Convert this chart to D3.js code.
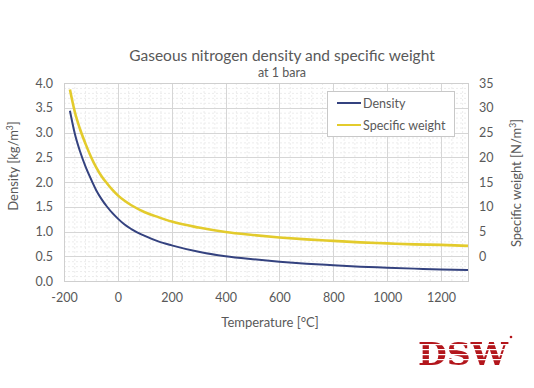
<!DOCTYPE html>
<html><head><meta charset="utf-8">
<script src="https://cdn.jsdelivr.net/npm/d3@7/dist/d3.min.js"></script>
<style>body{margin:0;background:#fff}svg{display:block}</style>
</head><body>
<svg id="c" width="534" height="388"></svg>
<script>
const temperature = [-178,-160,-140,-120,-100,-80,-60,-40,-20,0,25,50,100,150,200,300,400,500,600,700,800,900,1000,1100,1200,1300];
const density     = [3.44,2.98,2.61,2.31,2.06,1.83,1.65,1.50,1.37,1.26,1.14,1.05,0.91,0.80,0.72,0.59,0.50,0.44,0.39,0.35,0.32,0.29,0.27,0.25,0.23,0.22];
const specWeight  = [33.7,29.2,25.6,22.7,20.1,17.9,16.1,14.7,13.4,12.3,11.2,10.3,8.9,7.9,7.0,5.8,4.9,4.3,3.8,3.4,3.1,2.8,2.6,2.4,2.3,2.1];
const xTicks = [-200,0,200,400,600,800,1000,1200];
const yLeftTicks = [0,0.5,1,1.5,2,2.5,3,3.5,4];
const yRightTicks = [0,5,10,15,20,25,30,35];
const seriesNames = ["Density","Specific weight"];
const colors = ["#34427f","#e3cb2c"];

const svg = d3.select("#c");
const font = "Lato, 'Open Sans', sans-serif";
const L=64,R=468,T=83,B=281;
const x = d3.scaleLinear().domain([-200,1300]).range([L,R]);
const yL = d3.scaleLinear().domain([0,4]).range([B,T]);
const yR = d3.scaleLinear().domain([-5,35]).range([B,T]);

// minor grid
const g = svg.append("g");
g.selectAll(".mx").data(d3.range(-200,1301,40).filter(v=>v%200!==0)).join("line")
  .attr("x1",d=>x(d)).attr("x2",d=>x(d)).attr("y1",T).attr("y2",B)
  .attr("stroke","#ececec").attr("stroke-width",1).attr("stroke-dasharray","2,2");
g.selectAll(".my").data(d3.range(0,41).map(i=>i/10).filter((v,i)=>i%5!==0)).join("line")
  .attr("x1",L).attr("x2",R).attr("y1",d=>yL(d)+0.5).attr("y2",d=>yL(d)+0.5)
  .attr("stroke","#ececec").attr("stroke-width",1).attr("stroke-dasharray","2,2");
// major grid
g.selectAll(".Mx").data(xTicks.filter(v=>v>-200)).join("line")
  .attr("x1",d=>Math.round(x(d))+0.5).attr("x2",d=>Math.round(x(d))+0.5).attr("y1",T).attr("y2",B)
  .attr("stroke","#d6d6d6");
g.selectAll(".My").data(yLeftTicks).join("line")
  .attr("x1",L).attr("x2",R).attr("y1",d=>Math.round(yL(d))+0.5).attr("y2",d=>Math.round(yL(d))+0.5)
  .attr("stroke","#d6d6d6");
svg.append("rect").attr("x",L+0.5).attr("y",T+0.5).attr("width",R-L).attr("height",B-T)
  .attr("fill","none").attr("stroke","#cfcfcf");

// axes labels via d3 axes
const axB = svg.append("g").attr("transform",`translate(0,${B})`)
  .call(d3.axisBottom(x).tickValues(xTicks).tickSize(0).tickPadding(12).tickFormat(d=>String(d)));
const axL = svg.append("g").attr("transform",`translate(${L},0)`)
  .call(d3.axisLeft(yL).tickValues(yLeftTicks).tickSize(0).tickPadding(11).tickFormat(d=>d.toFixed(1)));
const axR = svg.append("g").attr("transform",`translate(${R},0)`)
  .call(d3.axisRight(yR).tickValues(yRightTicks).tickSize(0).tickPadding(11).tickFormat(d=>String(d)));
[axB,axL,axR].forEach(a=>{a.select(".domain").remove();
  a.selectAll("text").attr("font-family",font).attr("font-size",12.5).attr("fill","#595959");});

// lines
const line = ys => d3.line().x((d,i)=>x(temperature[i])).y(d=>ys(d)).curve(d3.curveMonotoneX);
svg.append("path").datum(specWeight).attr("d",line(yR)).attr("fill","none")
  .attr("stroke",colors[1]).attr("stroke-width",2.6);
svg.append("path").datum(density).attr("d",line(yL)).attr("fill","none")
  .attr("stroke",colors[0]).attr("stroke-width",2);

// titles
svg.append("text").attr("x",282).attr("y",61).attr("text-anchor","middle")
  .attr("font-family",font).attr("font-size",15.5).attr("fill","#595959")
  .text("Gaseous nitrogen density and specific weight");
svg.append("text").attr("x",282).attr("y",77).attr("text-anchor","middle")
  .attr("font-family",font).attr("font-size",12.5).attr("fill","#595959").text("at 1 bara");
svg.append("text").attr("x",270).attr("y",327).attr("text-anchor","middle")
  .attr("font-family",font).attr("font-size",13).attr("fill","#595959").text("Temperature [°C]");
const lt = svg.append("text").attr("transform","translate(18,166) rotate(-90)").attr("text-anchor","middle")
  .attr("font-family",font).attr("font-size",13).attr("fill","#595959");
lt.append("tspan").text("Density [kg/m");
lt.append("tspan").attr("font-size",8.5).attr("dy",-5).text("3");
lt.append("tspan").attr("dy",5).text("]");
const rt = svg.append("text").attr("transform","translate(521,183) rotate(-90)").attr("text-anchor","middle")
  .attr("font-family",font).attr("font-size",13).attr("fill","#595959");
rt.append("tspan").text("Specific weight [N/m");
rt.append("tspan").attr("font-size",8.5).attr("dy",-5).text("3");
rt.append("tspan").attr("dy",5).text("]");

// legend
const lg = svg.append("g");
lg.append("rect").attr("x",327.5).attr("y",91.5).attr("width",127).attr("height",45)
  .attr("fill","#fff").attr("stroke","#c8c8c8");
seriesNames.forEach((n,i)=>{
  const yy = 103 + i*22;
  lg.append("line").attr("x1",337).attr("x2",361).attr("y1",yy).attr("y2",yy)
    .attr("stroke",colors[i]).attr("stroke-width",2);
  lg.append("text").attr("x",363).attr("y",yy+4.5).attr("font-family",font).attr("font-size",12.5)
    .attr("fill","#595959").text(n);
});

// logo
const logo = svg.append("g");
const defs = svg.append("defs");
const m = defs.append("mask").attr("id","stripes");
m.append("rect").attr("x",410).attr("y",330).attr("width",110).attr("height",45).attr("fill","#fff");
[344,349,354,359].forEach(yy=>m.append("rect").attr("x",410).attr("y",yy).attr("width",110).attr("height",1.2).attr("fill","#000"));
logo.append("text").attr("x",463).attr("y",365).attr("text-anchor","middle")
  .attr("font-family","'DejaVu Serif','Liberation Serif',serif").attr("font-weight","bold")
  .attr("font-size",31).attr("fill","#b3161c").attr("mask","url(#stripes)")
  .attr("textLength",90).attr("lengthAdjust","spacingAndGlyphs").text("DSW");
logo.append("circle").attr("cx",511).attr("cy",337).attr("r",1.3).attr("fill","#b3161c");
</script>
</body></html>
